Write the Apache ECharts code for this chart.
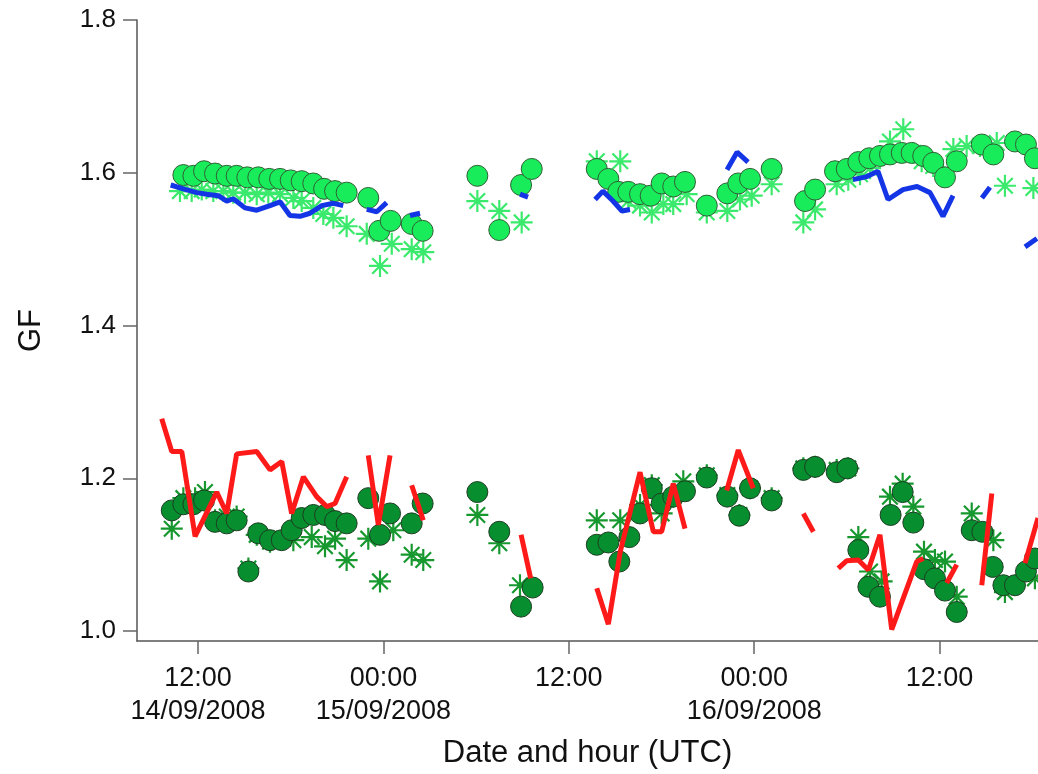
<!DOCTYPE html>
<html>
<head>
<meta charset="utf-8">
<script src="https://cdn.jsdelivr.net/npm/echarts@6/dist/echarts.min.js"></script>
<style>
  html, body { margin: 0; padding: 0; background: #fff; }
  #gf-chart { width: 1038px; height: 774px; }
</style>
</head>
<body>
<div id="gf-chart"></div>
<script>
// hours counted from 14/09/2008 00:00 UTC; null marks a gap in a line
const tickHours = [12, 24, 36, 48, 60];
const tickLabels = ['12:00\n14/09/2008', '00:00\n15/09/2008', '12:00', '00:00\n16/09/2008', '12:00'];
const yTicks = [1.0, 1.2, 1.4, 1.6, 1.8];

// upper group (~1.6)
const blueT = [10.23, 11.05, 11.92, 12.56, 13.31, 13.86, 14.28, 15.04, 15.80, 16.66, 17.31, 17.95, 18.60, 19.25, 20.01, 20.76, 21.40, null,
  22.92, 23.57, 24.21, null, 25.72, 26.37, null, 32.84, 33.36, null,
  37.70, 38.21, 38.86, 39.44, 39.96, null, 46.24, 46.89, 47.60, null,
  54.39, 55.30, 56.01, 56.66, 57.63, 58.54, 59.38, 60.22, 60.87, null,
  62.74, 63.26, null, 65.53, 66.30];
const blueGF = [1.584, 1.579, 1.574, 1.572, 1.570, 1.563, 1.566, 1.554, 1.551, 1.557, 1.562, 1.544, 1.543, 1.547, 1.557, 1.560, 1.557, null,
  1.552, 1.549, 1.561, null, 1.544, 1.547, null, 1.572, 1.568, null,
  1.565, 1.576, 1.563, 1.550, 1.552, null, 1.604, 1.627, 1.614, null,
  1.591, 1.595, 1.602, 1.565, 1.578, 1.582, 1.574, 1.543, 1.570, null,
  1.567, 1.581, null, 1.503, 1.514];

const lightCircleT = [11.05, 11.70, 12.39, 13.10, 13.86, 14.50, 15.19, 15.90, 16.61, 17.31, 18.00, 18.71, 19.46, 20.16, 20.87, 21.62,
  23.02, 23.73, 24.47, 25.83, 26.54, 30.08, 31.50, 32.91, 33.60,
  37.81, 38.56, 39.20, 39.85, 40.61, 41.30, 42.01, 42.76, 43.52, 44.93, 46.26, 46.97, 47.73, 49.13,
  51.29, 51.94, 53.23, 53.99, 54.74, 55.45, 56.14, 56.79, 57.55, 58.19, 58.94, 59.59, 60.35, 61.11,
  62.73, 63.48, 64.88, 65.59, 66.17];
const lightCircleGF = [1.597, 1.596, 1.602, 1.599, 1.596, 1.596, 1.594, 1.594, 1.592, 1.592, 1.590, 1.589, 1.586, 1.579, 1.576, 1.574,
  1.567, 1.524, 1.537, 1.533, 1.524, 1.596, 1.525, 1.584, 1.605,
  1.605, 1.592, 1.575, 1.575, 1.572, 1.570, 1.586, 1.582, 1.588, 1.557, 1.573, 1.586, 1.592, 1.605,
  1.563, 1.578, 1.602, 1.605, 1.614, 1.619, 1.622, 1.624, 1.626, 1.626, 1.622, 1.613, 1.594, 1.615,
  1.637, 1.624, 1.641, 1.637, 1.619];

const lightStarT = [10.83, 11.59, 12.24, 12.99, 13.64, 14.28, 15.04, 15.80, 16.55, 17.31, 18.17, 18.71, 19.46, 20.11, 20.76, 21.62,
  22.92, 23.78, 24.54, 25.83, 26.58, 30.08, 31.50, 32.95,
  37.81, 39.33, 39.85, 40.61, 41.37, 42.12, 42.76, 43.63, 44.93, 46.26, 47.08, 47.84, 49.13,
  51.18, 51.94, 53.34, 54.09, 54.85, 55.50, 56.79, 57.65, 58.30, 58.84, 59.59, 60.89, 61.75, 62.61, 63.70, 64.23, 66.07];
const lightStarGF = [1.576, 1.576, 1.578, 1.576, 1.576, 1.574, 1.574, 1.572, 1.574, 1.572, 1.567, 1.563, 1.554, 1.546, 1.541, 1.530,
  1.520, 1.478, 1.507, 1.500, 1.496, 1.563, 1.550, 1.535,
  1.615, 1.615, 1.563, 1.557, 1.548, 1.559, 1.559, 1.572, 1.548, 1.550, 1.565, 1.570, 1.585,
  1.535, 1.552, 1.585, 1.591, 1.598, 1.606, 1.641, 1.657, 1.626, 1.615, 1.609, 1.631, 1.635, 1.635, 1.639, 1.583, 1.580];

// lower group (~1.1)
const redT = [9.65, 10.30, 10.95, 11.81, 13.21, 13.86, 14.50, 15.80, 16.66, 17.42, 18.06, 18.82, 19.68, 20.33, 20.87, 21.62, null,
  23.02, 23.67, 24.43, null, 25.83, 26.58, null, 32.91, 33.53, null,
  37.81, 38.56, 39.33, 40.61, 41.47, 42.01, 42.76, 43.52, null,
  46.22, 46.97, 47.94, null, 51.18, 51.83, null,
  53.44, 53.98, 54.74, 55.39, 56.14, 56.90, 58.52, 58.95, null, 60.46, 61.11, null,
  62.73, 63.38, null, 65.53, 66.37];
const redGF = [1.278, 1.235, 1.235, 1.124, 1.182, 1.154, 1.232, 1.235, 1.211, 1.222, 1.154, 1.202, 1.176, 1.163, 1.167, 1.202, null,
  1.230, 1.139, 1.230, null, 1.191, 1.145, null, 1.126, 1.069, null,
  1.056, 1.009, 1.104, 1.208, 1.130, 1.130, 1.193, 1.134, null,
  1.184, 1.237, 1.187, null, 1.154, 1.130, null,
  1.082, 1.092, 1.093, 1.080, 1.126, 1.002, 1.091, 1.095, null, 1.063, 1.087, null,
  1.060, 1.180, null, 1.089, 1.148];

const darkCircleT = [10.30, 11.05, 11.70, 12.39, 13.10, 13.86, 14.50, 15.26, 15.90, 16.66, 17.42, 18.06, 18.71, 19.46, 20.22, 20.87, 21.62,
  23.02, 23.78, 24.43, 25.83, 26.54, 30.08, 31.50, 32.91, 33.66,
  37.81, 38.56, 39.27, 39.92, 40.61, 41.37, 42.01, 42.76, 43.52, 44.93, 46.26, 47.04, 47.73, 49.13,
  51.18, 51.94, 53.34, 54.03, 54.74, 55.39, 56.14, 56.83, 57.61, 58.30, 58.99, 59.70, 60.35, 61.11,
  62.08, 62.77, 63.44, 64.13, 64.88, 65.59, 66.17];
const darkCircleGF = [1.158, 1.166, 1.166, 1.171, 1.143, 1.141, 1.145, 1.078, 1.128, 1.119, 1.119, 1.132, 1.148, 1.152, 1.152, 1.144, 1.141,
  1.174, 1.126, 1.154, 1.141, 1.167, 1.182, 1.130, 1.032, 1.057,
  1.113, 1.116, 1.091, 1.123, 1.154, 1.187, 1.167, 1.176, 1.183, 1.201, 1.176, 1.151, 1.187, 1.171,
  1.211, 1.215, 1.208, 1.213, 1.106, 1.058, 1.045, 1.152, 1.182, 1.142, 1.081, 1.069, 1.053, 1.025,
  1.132, 1.130, 1.084, 1.060, 1.060, 1.078, 1.095];

const darkStarT = [10.30, 11.05, 11.81, 12.45, 13.10, 13.86, 14.50, 15.26, 15.80, 16.66, 17.52, 18.17, 19.36, 20.22, 20.87, 21.62,
  23.02, 23.78, 24.64, 25.83, 26.58, 30.08, 31.50, 32.84,
  37.81, 39.33, 40.61, 41.37, 42.01, 42.76, 43.41, 44.93, 46.26, 47.04, 47.73, 49.13,
  51.18, 51.94, 53.34, 54.09, 54.74, 55.50, 56.25, 56.79, 57.61, 58.30, 58.99, 59.70, 60.35, 61.11,
  62.08, 63.48, 64.23, 66.17];
const darkStarGF = [1.134, 1.174, 1.174, 1.182, 1.145, 1.150, 1.150, 1.082, 1.126, 1.117, 1.121, 1.119, 1.123, 1.111, 1.121, 1.093,
  1.121, 1.065, 1.132, 1.100, 1.093, 1.152, 1.115, 1.060,
  1.145, 1.145, 1.165, 1.191, 1.154, 1.176, 1.196, 1.204, 1.178, 1.152, 1.187, 1.174,
  1.213, 1.215, 1.211, 1.213, 1.123, 1.078, 1.065, 1.176, 1.193, 1.163, 1.104, 1.093, 1.091, 1.045,
  1.154, 1.119, 1.051, 1.069];

// eight-spoke asterisk, thin arms
const asterisk = 'path://M-10,-1L10,-1L10,1L-10,1Z' +
  'M1,-10L1,10L-1,10L-1,-10Z' +
  'M-6.36,-7.78L7.78,6.36L6.36,7.78L-7.78,-6.36Z' +
  'M-7.78,6.36L6.36,-7.78L7.78,-6.36L-6.36,7.78Z';

const pairs = (ts, vs) => ts.map((t, i) => (t === null || vs[i] === null) ? ['-', '-'] : [t, vs[i]]);

const font = '"Liberation Sans", Arial, sans-serif';

const option = {
  animation: false,
  backgroundColor: '#ffffff',
  grid: { left: 137, right: 0, top: 20, bottom: 131 },
  xAxis: {
    type: 'value',
    min: 8.05,
    max: 66.37,
    name: 'Date and hour (UTC)',
    nameLocation: 'middle',
    nameGap: 97,
    nameTextStyle: { fontFamily: font, fontSize: 31, color: '#111' },
    axisLine: { onZero: false, lineStyle: { color: '#555', width: 1.5 } },
    axisTick: { customValues: tickHours, length: 13, lineStyle: { color: '#666', width: 1.5 } },
    axisLabel: {
      customValues: tickHours,
      margin: 21,
      fontFamily: font,
      fontSize: 27,
      lineHeight: 33,
      color: '#111',
      formatter: (v) => tickLabels[tickHours.indexOf(Math.round(v))] || ''
    },
    splitLine: { show: false }
  },
  yAxis: {
    type: 'value',
    min: 0.987,
    max: 1.8,
    name: 'GF',
    nameLocation: 'middle',
    nameGap: 90,
    nameTextStyle: { fontFamily: font, fontSize: 31, color: '#111' },
    axisLine: { show: true, lineStyle: { color: '#555', width: 1.5 } },
    axisTick: { show: true, customValues: yTicks, length: 14, lineStyle: { color: '#666', width: 1.5 } },
    axisLabel: {
      customValues: yTicks,
      margin: 21,
      fontFamily: font,
      fontSize: 26,
      color: '#111',
      formatter: (v) => v.toFixed(1)
    },
    splitLine: { show: false }
  },
  series: [
    {
      name: 'upper line',
      type: 'line',
      data: pairs(blueT, blueGF),
      symbol: 'none',
      connectNulls: false,
      lineStyle: { color: '#1435e6', width: 5 }
    },
    {
      name: 'lower line',
      type: 'line',
      data: pairs(redT, redGF),
      symbol: 'none',
      connectNulls: false,
      lineStyle: { color: '#ff1a1a', width: 5 }
    },
    {
      name: 'upper asterisks',
      type: 'scatter',
      data: pairs(lightStarT, lightStarGF),
      symbol: asterisk,
      symbolSize: 22,
      itemStyle: { color: '#3bea6c', opacity: 1 }
    },
    {
      name: 'lower asterisks',
      type: 'scatter',
      data: pairs(darkStarT, darkStarGF),
      symbol: asterisk,
      symbolSize: 22,
      itemStyle: { color: '#17982f', opacity: 1 }
    },
    {
      name: 'upper circles',
      type: 'scatter',
      data: pairs(lightCircleT, lightCircleGF),
      symbol: 'circle',
      symbolSize: 21,
      itemStyle: { color: '#19ec5a', borderColor: '#2f5f35', borderWidth: 1, opacity: 1 }
    },
    {
      name: 'lower circles',
      type: 'scatter',
      data: pairs(darkCircleT, darkCircleGF),
      symbol: 'circle',
      symbolSize: 21,
      itemStyle: { color: '#078e2f', borderColor: '#1d3d22', borderWidth: 1, opacity: 1 }
    }
  ]
};

const chart = echarts.init(document.getElementById('gf-chart'));
chart.setOption(option);
window.addEventListener('resize', () => chart.resize());
</script>
</body>
</html>
